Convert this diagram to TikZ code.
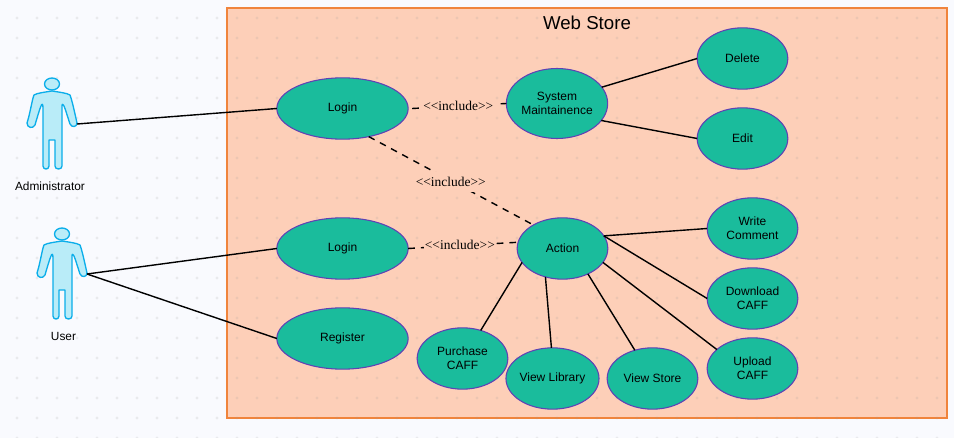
\documentclass[tikz,border=0pt]{standalone}
\usepackage{fontspec}
\setmainfont{Liberation Sans}
\newfontfamily\serifcap{Liberation Serif}
\usetikzlibrary{shapes.geometric}
\definecolor{pagebg}{HTML}{F9FAFE}
\definecolor{boxfill}{HTML}{FDCFB8}
\definecolor{boxline}{HTML}{F0843C}
\definecolor{casefill}{HTML}{1ABC9C}
\definecolor{caseline}{HTML}{5F41B5}
\definecolor{actorline}{HTML}{0BAEEA}
\definecolor{actorfill}{HTML}{B9ECF8}
\tikzset{
  usecase/.style={ellipse,draw=caseline,fill=casefill,line width=0.8pt,inner sep=0pt,outer sep=0pt,
    minimum width=68pt,minimum height=46pt,align=center,font=\fontsize{9}{10.5}\selectfont},
  bigcase/.style={usecase,minimum width=98.5pt},
  assoc/.style={line width=1.05pt,black},
  incl/.style={line width=1.05pt,black,dash pattern=on 5pt off 4.5pt},
  incllabel/.style={fill=boxfill,inner xsep=1pt,inner ysep=4pt,font=\serifcap\fontsize{10.1}{11}\selectfont},
  actorlabel/.style={font=\fontsize{8.9}{10}\selectfont},
  actorshape/.style={draw=actorline,fill=actorfill,line width=1pt,line join=round},
  griddot/.style={fill=black!40,fill opacity=0.16,draw=none},
  pics/actorfigure/.style={code={
    \path[actorshape] (0,0) ellipse [x radius=7.5,y radius=6];
    \path[actorshape] (0,7) .. controls (6,8) and (15,9) .. (18,11)
      .. controls (20,16) and (23,30) .. (25,39)
      .. controls (25,43) and (20,44) .. (18,40)
      .. controls (16,34) and (13,24) .. (12,22)
      .. controls (10,19) and (10,20) .. (10,24)
      -- (10,82) .. controls (10,86) and (3,86) .. (3,82)
      -- (3,56) -- (-3,56) -- (-3,82)
      .. controls (-3,86) and (-9,86) .. (-9,82)
      -- (-9,24) .. controls (-9,20) and (-10,19) .. (-11,22)
      .. controls (-12,24) and (-15,34) .. (-17,41)
      .. controls (-19,45) and (-25,44) .. (-25,39)
      .. controls (-22,30) and (-20,16) .. (-18,11)
      .. controls (-15,9) and (-6,8) .. (0,7) -- cycle;
  }}
}
\begin{document}
\begin{tikzpicture}[x=0.75pt,y=-0.75pt]
\useasboundingbox (0,0) rectangle (954,438);
\fill[pagebg] (0,0) rectangle (954,438);
\node[draw=boxline,fill=boxfill,line width=1pt,inner sep=0pt,outer sep=0pt,minimum width=540pt,minimum height=307.5pt] (store) at (587,213) {};
\foreach \i in {0,...,46} \foreach \j in {0,...,21}
  \fill[griddot] ({17+20*\i},{18+20*\j}) circle [radius=1.7];
\node[font=\fontsize{14}{16}\selectfont] (title) at (587,23) {Web Store};

\pic at (52,84) {actorfigure};
\pic at (62,234) {actorfigure};
\coordinate (adminhand) at (77,124);
\coordinate (userhand) at (87,274);
\node[actorlabel] (admin) at (50,186) {Administrator};
\node[actorlabel] (user) at (63.5,336) {User};

\node[bigcase] (login1) at (342.5,108.5) {Login};
\node[bigcase] (login2) at (342.5,248.5) {Login};
\node[bigcase] (register) at (342.5,338.5) {Register};
\node[usecase,minimum width=76pt,minimum height=52.5pt] (system) at (557,103.5) {System\\Maintainence};
\node[usecase] (action) at (562.5,248.5) {Action};
\node[usecase] (delete) at (742.5,58.5) {Delete};
\node[usecase] (edit) at (742.5,138.5) {Edit};
\node[usecase] (write) at (752.5,228.5) {Write\\Comment};
\node[usecase] (download) at (752.5,298.5) {Download\\CAFF};
\node[usecase] (upload) at (752.5,368.5) {Upload\\CAFF};
\node[usecase] (purchase) at (462.5,358.5) {Purchase\\CAFF};
\node[usecase] (library) at (552.5,378.5) {View Library};
\node[usecase] (viewstore) at (652.5,378.5) {View Store};

\draw[assoc] (adminhand) -- (login1.west);
\draw[assoc] (userhand) -- (login2.west);
\draw[assoc] (userhand) -- (register.west);
\draw[assoc] (system.20) -- (delete.west);
\draw[assoc] (system.-21) -- (edit.west);
\draw[assoc] (action.17) -- (write.west);
\draw[assoc] (action.17) -- (download.west);
\draw[assoc] (action.-19) -- (upload.152);
\draw[assoc] (action.-45) -- (viewstore.122);
\draw[assoc] (action.-121) -- (library.92);
\draw[assoc] (action.-161) -- (purchase.57);

\draw[incl] ([xshift=3pt]login1.east) -- node[incllabel,pos=0.49] (inc1) {<<include>>} (system.west);
\draw[incl] (login1.-47) -- node[incllabel,pos=0.49,xshift=1pt,yshift=-1.8pt] (inc2) {<<include>>} (action.141);
\draw[incl] (login2.east) -- node[incllabel,pos=0.47,yshift=0.6pt] (inc3) {<<include>>} (action.172);
\end{tikzpicture}
\end{document}
